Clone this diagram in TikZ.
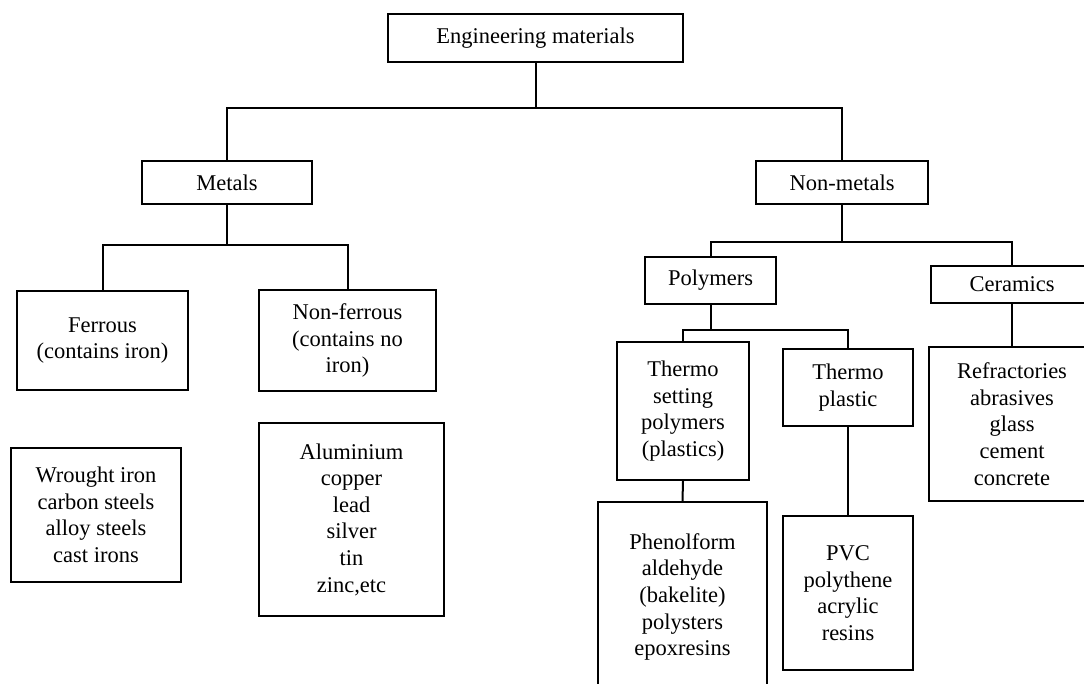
\documentclass[tikz,border=0pt]{standalone}
\usepackage{fontspec}
\setmainfont{Liberation Serif}
\tikzset{
  box/.style={draw, line width=2pt, rectangle, inner sep=0pt, align=center,
    font=\fontsize{22.5}{26.6}\selectfont},
  link/.style={line width=2pt}
}
\begin{document}
\begin{tikzpicture}[x=1pt,y=-1pt]
\useasboundingbox (0,0) rectangle (1084,684);
\fill[white] (0,0) rectangle (1084,684);
\clip (0,0) rectangle (1084,684);
% nodes
\node[box, minimum width=295pt, minimum height=48pt] (eng) at (535.5,38) {Engineering materials};
\node[box, minimum width=170pt, minimum height=43pt] (metals) at (227,182.5) {Metals};
\node[box, minimum width=172pt, minimum height=43pt] (nonmetals) at (842,182.5) {Non-metals};
\node[box, minimum width=171pt, minimum height=99pt] (ferrous) at (102.5,340.5) {Ferrous\\(contains iron)};
\node[box, minimum width=177pt, minimum height=100pt] (nonferrous) at (347.5,340.5) {Non-ferrous\\(contains no\\iron)};
\node[box, minimum width=170pt, minimum height=134pt] (wrought) at (96,515) {Wrought iron\\carbon steels\\alloy steels\\cast irons};
\node[box, minimum width=185pt, minimum height=193pt] (alum) at (351.5,519.5) {Aluminium\\copper\\lead\\silver\\tin\\zinc,etc};
\node[box, minimum width=131pt, minimum height=47pt] (polymers) at (710.5,280.5) {Polymers};
\node[box, minimum width=162pt, minimum height=37pt] (ceramics) at (1012,284.5) {Ceramics};
\node[box, minimum width=132pt, minimum height=138pt] (thermoset) at (683,411) {Thermo\\setting\\polymers\\(plastics)};
\node[box, minimum width=130pt, minimum height=77pt] (thermoplastic) at (848,387.5) {Thermo\\plastic};
\node[box, minimum width=166pt, minimum height=154pt] (refract) at (1012,424) {Refractories\\abrasives\\glass\\cement\\concrete};
\node[box, minimum width=169pt, minimum height=190pt] (phenol) at (682.5,597) {Phenolform\\aldehyde\\(bakelite)\\polysters\\epoxresins};
\node[box, minimum width=130pt, minimum height=154pt] (pvc) at (848,593) {PVC\\polythene\\acrylic\\resins};
% junctions
\coordinate (j1) at (535.5,108);
\coordinate (j2) at (227,245);
\coordinate (j3) at (842,242);
\coordinate (j4) at (710.5,330);
% connectors
\draw[link] (eng.south) -- (j1);
\draw[link] (metals.north) |- (j1) -| (nonmetals.north);
\draw[link] (metals.south) -- (j2);
\draw[link] (ferrous.north) |- (j2) -| (nonferrous.north);
\draw[link] (nonmetals.south) -- (j3);
\draw[link] (polymers.north) |- (j3) -| (ceramics.north);
\draw[link] (polymers.south) -- (j4);
\draw[link] (thermoset.north) |- (j4) -| (thermoplastic.north);
\draw[link] (ceramics.south) -- (refract.north);
\draw[link] (thermoset.south) -- (phenol.north);
\draw[link] (thermoplastic.south) -- (pvc.north);
\end{tikzpicture}
\end{document}
